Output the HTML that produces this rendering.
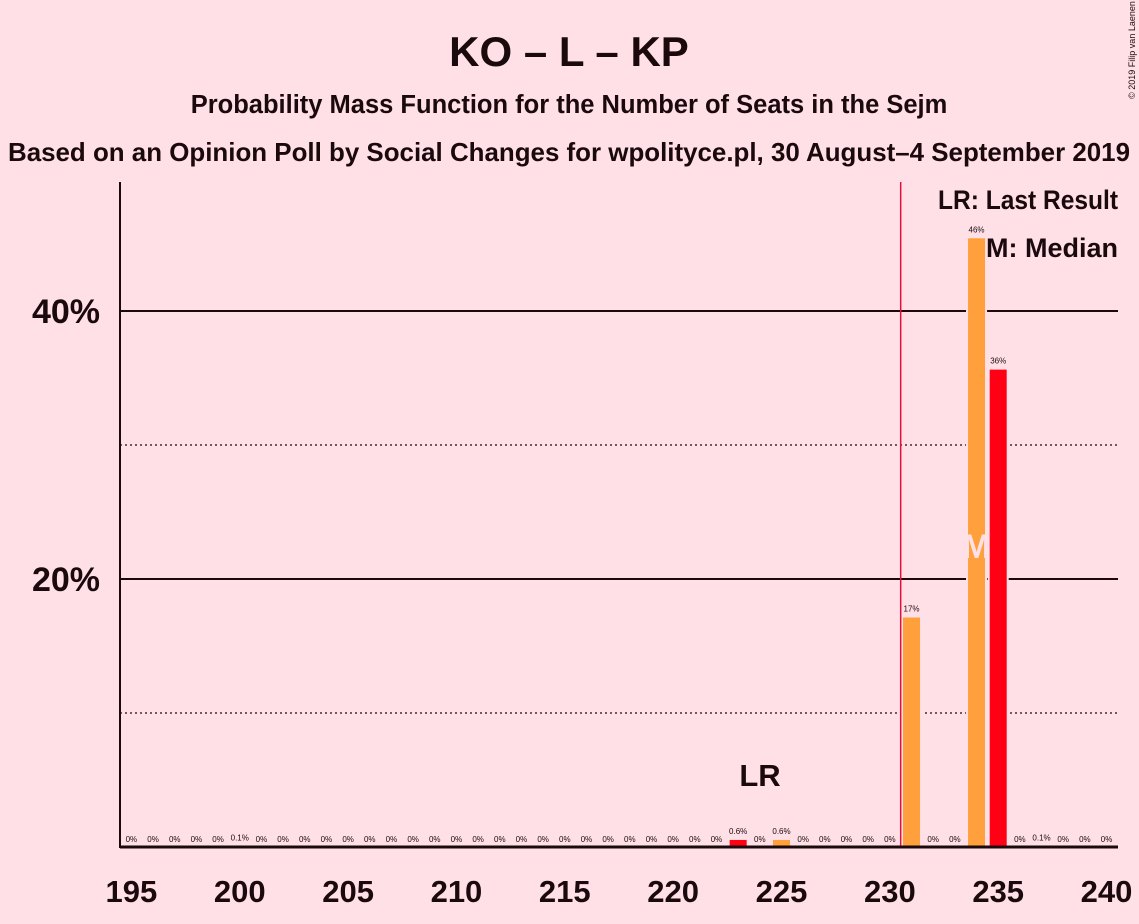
<!DOCTYPE html>
<html><head><meta charset="utf-8"><style>
body{margin:0;background:#FFE0E6;}
svg{display:block;font-family:"Liberation Sans",sans-serif;}
</style></head><body>
<svg id="chart" width="1139" height="924">
<rect width="1139" height="924" fill="#FFE0E6"/>
<text x="569" y="66" text-anchor="middle" font-size="42" font-weight="bold" fill="#1a0a0e">KO – L – KP</text>
<text x="569" y="113" text-anchor="middle" font-size="25.5" font-weight="bold" fill="#1a0a0e">Probability Mass Function for the Number of Seats in the Sejm</text>
<text x="569" y="161" text-anchor="middle" font-size="25.8" font-weight="bold" fill="#1a0a0e" textLength="1122" lengthAdjust="spacingAndGlyphs">Based on an Opinion Poll by Social Changes for wpolityce.pl, 30 August–4 September 2019</text>
<text transform="translate(1135,50) rotate(-90)" text-anchor="middle" font-size="9" fill="#1a0a0e">© 2019 Filip van Laenen</text>
<g id="grid"></g>
<g id="bars"></g>
<g id="labels"></g>
<line x1="120" y1="182" x2="120" y2="848" stroke="#1a0a0e" stroke-width="2"/>
<line x1="120" y1="847" x2="1118" y2="847" stroke="#1a0a0e" stroke-width="3"/>
<text x="1118" y="209" text-anchor="end" font-size="27" font-weight="bold" fill="#1a0a0e" textLength="180" lengthAdjust="spacingAndGlyphs">LR: Last Result</text>
<text x="1118" y="257" text-anchor="end" font-size="27" font-weight="bold" fill="#1a0a0e" textLength="132" lengthAdjust="spacingAndGlyphs">M: Median</text>
</svg>
<script>
const seats=[195,196,197,198,199,200,201,202,203,204,205,206,207,208,209,210,211,212,213,214,215,216,217,218,219,220,221,222,223,224,225,226,227,228,229,230,231,232,233,234,235,236,237,238,239,240];
const probs=[0,0,0,0,0,0.1,0,0,0,0,0,0,0,0,0,0,0,0,0,0,0,0,0,0,0,0,0,0,0.6,0,0.6,0,0,0,0,0,17.2,0,0,45.5,35.7,0,0.1,0,0,0];
const probLabels=["0%","0%","0%","0%","0%","0.1%","0%","0%","0%","0%","0%","0%","0%","0%","0%","0%","0%","0%","0%","0%","0%","0%","0%","0%","0%","0%","0%","0%","0.6%","0%","0.6%","0%","0%","0%","0%","0%","17%","0%","0%","46%","36%","0%","0.1%","0%","0%","0%"];
const redSeats=[223,235];
const xTicks=[195,200,205,210,215,220,225,230,235,240];
const yTicks=[10,20,30,40];
const lastResult=230.5;
const median=234;
const NS="http://www.w3.org/2000/svg";
function x(s){return 131.4+(s-195)*21.67;}
function y(p){return 847-p*13.4;}
function mk(tag,attrs,parent){const e=document.createElementNS(NS,tag);for(const k in attrs)e.setAttribute(k,attrs[k]);document.getElementById(parent).appendChild(e);return e;}
yTicks.forEach(t=>{
  const major=t%20===0;
  const l=mk('line',{x1:120,x2:1118,y1:y(t),y2:y(t),stroke:'#1a0a0e','stroke-width':major?2:1.3,'stroke-dasharray':major?'none':'2,3'},'grid');
  
  
  if(major){
    const tx=mk('text',{x:100,y:y(t)+12,'text-anchor':'end','font-size':34,'font-weight':'bold',fill:'#1a0a0e'},'labels');
    tx.textContent=t+'%';
    
    
  }
});
xTicks.forEach(t=>{
  const tx=mk('text',{x:x(t),y:902,'text-anchor':'middle','font-size':31,'font-weight':'bold',fill:'#1a0a0e'},'labels');
  tx.textContent=t;
  
  
});
seats.forEach((s,i)=>{
  const p=probs[i];
  if(p>0){
    const r=mk('rect',{x:x(s)-9.5,y:y(p),width:19,height:847-y(p),fill:redSeats.includes(s)?'#FF0015':'#FFA03C',stroke:'#FFE0E6','stroke-width':2},'bars');
    
    
  }
  const tx=mk('text',{x:x(s),y:y(p)-5,'text-anchor':'middle','font-size':8,fill:'#1a0a0e'},'labels');
  tx.textContent=probLabels[i];
  
  
});
const lr=mk('line',{x1:x(lastResult),x2:x(lastResult),y1:182,y2:847,stroke:'#E0103A','stroke-width':1.5},'labels');


const lrt=mk('text',{x:760,y:786,'text-anchor':'middle','font-size':31,'font-weight':'bold',fill:'#1a0a0e'},'labels');
lrt.textContent='LR';


const mt=mk('text',{x:x(median),y:558,'text-anchor':'middle','font-size':34,'font-weight':'bold',fill:'#FFE0E6'},'labels');
mt.textContent='M';


</script>
</body></html>
